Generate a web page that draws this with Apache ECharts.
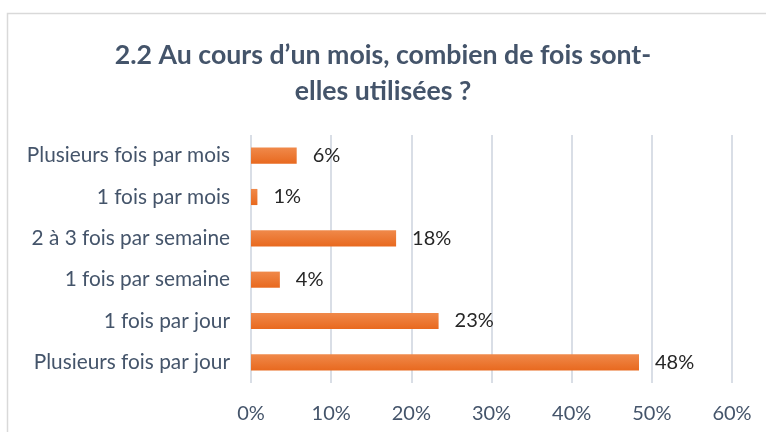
<!DOCTYPE html>
<html><head><meta charset="utf-8">
<script src="https://cdn.jsdelivr.net/npm/echarts@6/dist/echarts.min.js"></script>
<style>html,body{margin:0;padding:0;background:#fff}#c{width:766px;height:432px}</style>
</head><body><div id="c"></div>
<script>
const categories = ["Plusieurs fois par jour","1 fois par jour","1 fois par semaine","2 à 3 fois par semaine","1 fois par mois","Plusieurs fois par mois"];
const values = [48.4, 23.4, 3.6, 18.1, 0.8, 5.7];
const labels = ["48%","23%","4%","18%","1%","6%"];
const xTicks = [0,10,20,30,40,50,60];
const titleText = "2.2 Au cours d’un mois, combien de fois sont-\nelles utilisées ?";

const chart = echarts.init(document.getElementById('c'));
chart.setOption({
  animation:false,
  graphic:[{type:'rect',shape:{x:7.5,y:13.5,width:800,height:500},style:{fill:'none',stroke:'#D9D9D9',lineWidth:1.5},z:-1}],
  title:{text:titleText,left:'center',top:32,textStyle:{fontFamily:'Lato',fontWeight:'bold',fontSize:26.7,color:'#44546A',lineHeight:36}},
  grid:{left:251,right:34,top:135,bottom:49,containLabel:false},
  xAxis:{type:'value',min:0,max:60,interval:10,
    axisLabel:{formatter:v=>v+'%',fontFamily:'Lato',fontSize:20,color:'#44546A',margin:21},
    axisLine:{show:false},axisTick:{show:false},
    splitLine:{lineStyle:{color:'#D9DEE6',width:2}}},
  yAxis:{type:'category',data:categories,
    axisLabel:{fontFamily:'Lato',fontSize:20.8,color:'#44546A',margin:21},
    axisLine:{show:false},axisTick:{show:false}},
  series:[{type:'bar',data:values,barWidth:'39%',
    itemStyle:{color:{type:'linear',x:0,y:0,x2:0,y2:1,colorStops:[{offset:0,color:'#F0894A'},{offset:1,color:'#E8691F'}]}},
    label:{show:true,position:'right',distance:16,formatter:p=>labels[p.dataIndex],fontFamily:'Lato',fontSize:20,color:'#262626'}}]
});
</script></body></html>
